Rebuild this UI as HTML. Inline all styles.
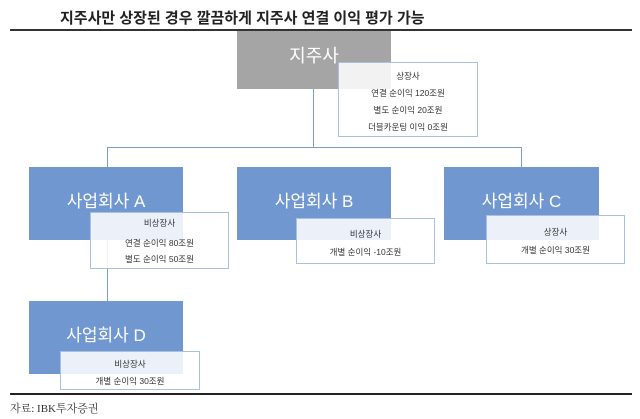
<!DOCTYPE html>
<html><head><meta charset="utf-8"><style>
body{margin:0;width:640px;height:419px;background:#fff;position:relative;overflow:hidden;font-family:"Liberation Sans","Noto Sans CJK KR",sans-serif}
.a{position:absolute}
.box{position:absolute;color:#fff;font-size:17px;text-align:center;display:flex;align-items:center;justify-content:center}
.g{background:#a5a5a5}
.b{background:#7097d0}
.info{position:absolute;background:rgba(255,255,255,0.86);border:1px solid #a9c1df;box-sizing:border-box;font-size:8.5px;color:#333}
.info div{position:absolute;left:0;right:0;text-align:center;line-height:10px}
.ln{position:absolute;background:#7f9cc6}
</style></head><body>
<div class="a" style="left:60px;top:7px;font-size:15px;font-weight:bold;color:#222;">지주사만 상장된 경우 깔끔하게 지주사 연결 이익 평가 가능</div>
<div class="a" style="left:10px;top:29px;width:622px;height:2px;background:#333"></div>

<div class="ln" style="left:313px;top:89px;width:1px;height:58px"></div>
<div class="ln" style="left:107px;top:147px;width:415px;height:1px"></div>
<div class="ln" style="left:107px;top:147px;width:1px;height:20px"></div>
<div class="ln" style="left:521px;top:147px;width:1px;height:20px"></div>
<div class="ln" style="left:107px;top:240px;width:1px;height:61px"></div>

<div class="box g" style="left:237px;top:31px;width:154px;height:58px;padding-bottom:10px;box-sizing:border-box;font-size:18px">지주사</div>
<div class="info" style="left:338px;top:62px;width:140px;height:75px">
<div style="top:8px">상장사</div><div style="top:25px">연결 순이익 120조원</div><div style="top:42px">별도 순이익 20조원</div><div style="top:59px">더블카운팅 이익 0조원</div></div>

<div class="box b" style="left:29px;top:167px;width:154px;height:73px;padding-bottom:8px;box-sizing:border-box">사업회사 A</div>
<div class="box b" style="left:237px;top:167px;width:154px;height:73px;padding-bottom:8px;box-sizing:border-box">사업회사 B</div>
<div class="box b" style="left:444px;top:167px;width:155px;height:73px;padding-bottom:8px;box-sizing:border-box">사업회사 C</div>
<div class="box b" style="left:29px;top:301px;width:154px;height:73px;padding-bottom:8px;box-sizing:border-box">사업회사 D</div>

<div class="info" style="left:90px;top:212px;width:139px;height:57px">
<div style="top:5px">비상장사</div><div style="top:25px">연결 순이익 80조원</div><div style="top:41px">별도 순이익 50조원</div></div>
<div class="info" style="left:296px;top:218px;width:139px;height:46px">
<div style="top:10px">비상장사</div><div style="top:28px">개별 순이익 -10조원</div></div>
<div class="info" style="left:486px;top:215px;width:139px;height:49px">
<div style="top:11px">상장사</div><div style="top:29px">개별 순이익 30조원</div></div>
<div class="info" style="left:60px;top:351px;width:140px;height:39px">
<div style="top:7px">비상장사</div><div style="top:24px">개별 순이익 30조원</div></div>

<div class="a" style="left:10px;top:393px;width:622px;height:2px;background:#222"></div>
<div class="a" style="left:10px;top:400px;font-size:11px;color:#333;font-family:'Liberation Serif','Noto Serif CJK SC',serif">자료: IBK투자증권</div>
</body></html>
